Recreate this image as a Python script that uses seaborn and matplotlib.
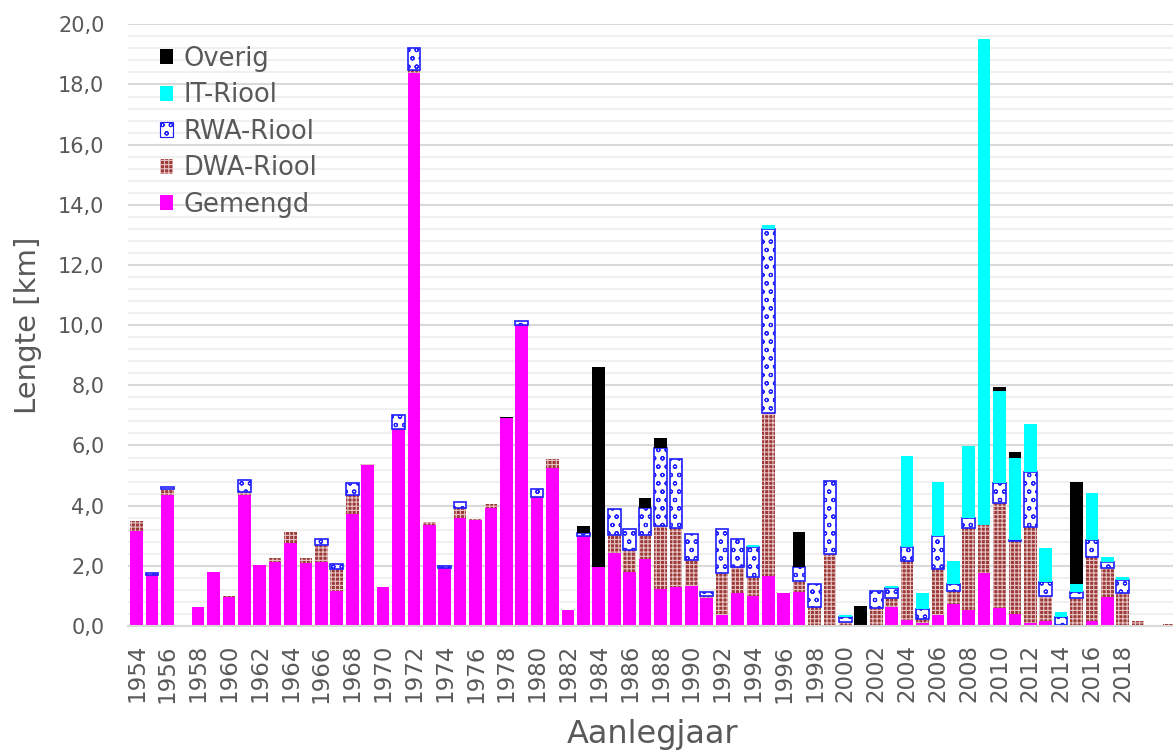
import numpy as np
import pandas as pd
import seaborn as sns
import matplotlib.pyplot as plt
import matplotlib.patches as mpatches
from matplotlib.ticker import FuncFormatter, MultipleLocator

# data (km per aanlegjaar)
years = list(range(1954, 2022))

gemengd = [3.16, 1.70, 4.34, 0, 0.62, 1.81, 0.97, 4.34, 2.03, 2.14,
           2.75, 2.08, 2.14, 1.17, 3.72, 5.35, 1.29, 6.54, 18.39, 3.35,
           1.94, 3.58, 3.52, 3.93, 6.93, 10.0, 4.30, 5.26, 0.53, 2.99,
           1.97, 2.42, 1.81, 2.23, 1.23, 1.29, 1.34, 0.94, 0.37, 1.09,
           1.01, 1.67, 1.09, 1.12, 0, 0, 0, 0, 0, 0.62,
           0.21, 0.11, 0.37, 0.72, 0.53, 1.75, 0.59, 0.39, 0.09, 0.17,
           0, 0.03, 0.17, 0.95, 0.03, 0, 0, 0]
dwa = [0.33, 0, 0.23, 0, 0, 0, 0.02, 0.13, 0, 0.13,
       0.37, 0.19, 0.55, 0.71, 0.63, 0.03, 0, 0, 0.09, 0.12,
       0, 0.33, 0.03, 0.14, 0, 0, 0, 0.29, 0, 0,
       0, 0.60, 0.72, 0.79, 2.11, 1.98, 0.85, 0.07, 1.38, 0.88,
       0.63, 5.40, 0, 0.38, 0.62, 2.39, 0.14, 0, 0.59, 0.32,
       1.94, 0.11, 1.54, 0.44, 2.74, 1.60, 3.49, 2.43, 3.21, 0.83,
       0.02, 0.89, 2.11, 0.97, 1.06, 0.18, 0, 0.07]
rwa = [0, 0.05, 0.04, 0, 0, 0, 0, 0.38, 0, 0,
       0, 0, 0.19, 0.18, 0.39, 0, 0, 0.47, 0.72, 0,
       0.04, 0.21, 0, 0, 0, 0.14, 0.25, 0, 0, 0.09,
       0, 0.87, 0.69, 0.89, 2.59, 2.29, 0.86, 0.13, 1.46, 0.91,
       1.00, 6.14, 0, 0.47, 0.78, 2.44, 0.15, 0, 0.58, 0.31,
       0.48, 0.33, 1.08, 0.23, 0.31, 0, 0.66, 0.04, 1.83, 0.47,
       0.27, 0.20, 0.58, 0.22, 0.44, 0, 0, 0]
it = [0] * 40 + [0.05, 0.12, 0, 0, 0, 0, 0.08, 0, 0, 0.08,
                 3.01, 0.54, 1.81, 0.78, 2.40, 16.16, 3.06, 2.71, 1.59, 1.11,
                 0.17, 0.27, 1.57, 0.14, 0.09, 0, 0, 0]
overig = [0] * 24 + [0.02, 0, 0, 0, 0, 0.24,
                     6.63, 0, 0, 0.36, 0.31, 0, 0, 0, 0, 0,
                     0, 0, 0, 1.14, 0, 0, 0, 0.66, 0, 0,
                     0, 0, 0, 0, 0, 0, 0.16, 0.20, 0, 0,
                     0, 3.41, 0, 0, 0, 0, 0, 0]

df = pd.DataFrame({"jaar": [str(j) for j in years],
                   "Gemengd": gemengd, "DWA-Riool": dwa, "RWA-Riool": rwa,
                   "IT-Riool": it, "Overig": overig})

# stapel volgorde van onder naar boven
lagen = [
    ("Gemengd", dict(color="#ff00ff", edgecolor="#ff00ff", linewidth=0)),
    ("DWA-Riool", dict(color="#9c3a3a", edgecolor="#e6c3c3", hatch="++++", linewidth=0)),
    ("RWA-Riool", dict(color="white", edgecolor="#1f1fff", hatch="oo", linewidth=1.2)),
    ("IT-Riool", dict(color="#00ffff", edgecolor="#00ffff", linewidth=0)),
    ("Overig", dict(color="black", edgecolor="black", linewidth=0)),
]

sns.set_style("white")
plt.rcParams["font.family"] = ["DejaVu Sans"]
plt.rcParams["hatch.linewidth"] = 0.8

fig = plt.figure(figsize=(11.73, 7.51), dpi=100)
ax = fig.add_axes([128 / 1173, 125 / 751, 1048.7 / 1173, 601.7 / 751])

bodem = np.zeros(len(years))
for naam, stijl in lagen:
    sns.barplot(data=df, x="jaar", y=naam, bottom=bodem, width=0.82,
                saturation=1, ax=ax, **stijl)
    # lege stukken niet tekenen (anders blauwe randjes op elke staaf)
    for bar in ax.containers[-1]:
        if bar.get_height() == 0:
            bar.set_visible(False)
    bodem = bodem + df[naam].values

ax.set_xlim(-0.55, 67.5)
ax.set_ylim(0, 20)
ax.yaxis.set_major_locator(MultipleLocator(2))
ax.yaxis.set_minor_locator(MultipleLocator(0.4))
ax.yaxis.set_major_formatter(FuncFormatter(lambda v, p: f"{v:.1f}".replace(".", ",")))
ax.grid(axis="y", which="major", color="#d9d9d9", linewidth=1.5)
ax.grid(axis="y", which="minor", color="#f0f0f0", linewidth=1.5)
ax.set_axisbelow(True)

ax.set_xticks(range(0, 65, 2))
ax.set_xticklabels([str(j) for j in years[:65:2]], rotation=90)
ax.tick_params(axis="both", which="both", length=0, labelsize=15, labelcolor="#595959")
ax.tick_params(axis="y", pad=17)
ax.tick_params(axis="x", pad=13, labelsize=16.5)

for s in ["top", "right", "left"]:
    ax.spines[s].set_visible(False)
ax.spines["bottom"].set_color("#d9d9d9")
ax.spines["bottom"].set_linewidth(1.5)

ax.set_xlabel("Aanlegjaar", fontsize=23, color="#595959", labelpad=12)
ax.set_ylabel("Lengte [km]", fontsize=21, color="#595959", labelpad=11.5)

# legenda met eigen vlakjes, bovenste laag eerst
handles = [mpatches.Patch(facecolor=s["color"], edgecolor=s["edgecolor"],
                          hatch=s.get("hatch"), linewidth=s["linewidth"] * 0.7,
                          label=n) for n, s in lagen][::-1]
leg = ax.legend(handles=handles, loc="upper left", bbox_to_anchor=(0.008, 1.003),
                frameon=False, fontsize=18.5, labelcolor="#595959",
                handlelength=0.52, handleheight=0.52, handletextpad=0.4,
                labelspacing=0.41)

fig.savefig("out.png", dpi=100)
